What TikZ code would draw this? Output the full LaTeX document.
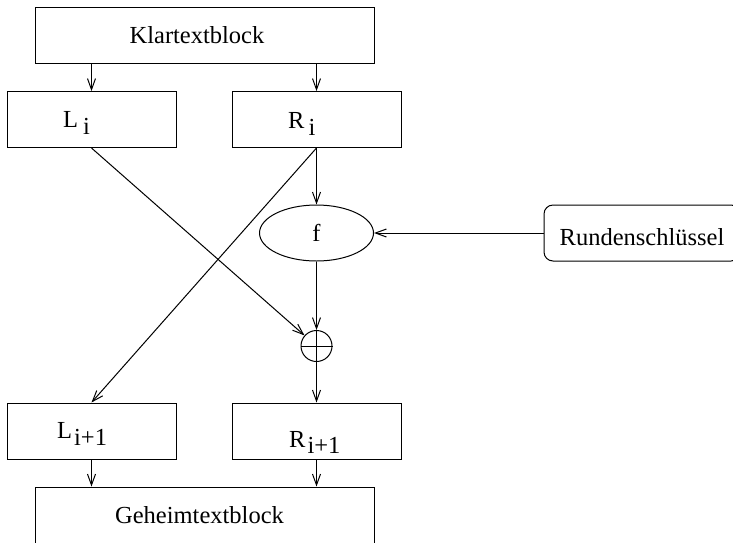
\documentclass[tikz,border=0pt]{standalone}
\usepackage{fontspec}
\setmainfont{Liberation Serif}
\usetikzlibrary{arrows.meta,shapes.geometric}
\begin{document}
\begin{tikzpicture}[x=1pt,y=-1pt,
  every node/.style={font=\fontsize{24.5}{29}\selectfont},
  box/.style={draw, line width=1pt, rectangle, inner sep=0pt,
              minimum width=169pt, minimum height=56pt},
  widebox/.style={box, minimum width=339pt},
  lbl/.style={anchor=base west, inner sep=0pt},
  ctr/.style={anchor=base, inner sep=0pt},
  arr/.style={line width=1pt, -{Straight Barb[length=11pt,width=8pt]}},
]
\useasboundingbox (0,0) rectangle (733,542);
\clip (0,0) rectangle (733,542);

% plaintext block
\node[widebox] (klar) at (204.5,35) {};
\node[ctr] (klarT) at (197,43) {Klartextblock};

% left and right halves of round i
\node[box] (li) at (91.5,119.5) {};
\node[lbl] (liT) at (63,127) {L\hspace{5pt}\raisebox{-7pt}{i}};
\node[box] (ri) at (316.5,119.5) {};
\node[lbl] (riT) at (288,128) {R\hspace{4pt}\raisebox{-7pt}{i}};

% round function and round key
\node[ellipse, draw, line width=1pt, minimum width=114pt, minimum height=56pt,
      inner sep=0pt] (f) at (316.5,233) {f};
\node[draw, line width=1pt, rounded corners=9pt, minimum width=196pt,
      minimum height=56pt, inner sep=0pt] (rs) at (642,233) {};
\node[ctr] (rsT) at (642,245) {Rundenschlüssel};

% XOR
\node[circle, draw, line width=1pt, minimum size=31pt, inner sep=0pt] (xor) at (316.5,346) {};
\draw[line width=0.9pt] (xor.north) -- (xor.south) (xor.west) -- (xor.east);

% halves of round i+1
\node[box] (li1) at (91.5,431) {};
\node[lbl] (li1T) at (57,438) {L\hspace{2pt}\raisebox{-7pt}{i+1}};
\node[box] (ri1) at (316.5,431) {};
\node[lbl] (ri1T) at (289,447) {R\hspace{2pt}\raisebox{-6pt}{i+1}};

% ciphertext block (runs past the lower edge)
\node[widebox, minimum height=70pt] (geh) at (204.5,522) {};
\node[ctr] (gehT) at (199.5,523) {Geheimtextblock};

% connectors
\draw[arr] (klar.south -| li.north) -- (li.north);
\draw[arr] (klar.south -| ri.north) -- (ri.north);
\draw[arr] (li.south) -- (xor);
\draw[arr] (ri.south) -- (li1.north);
\draw[arr] (ri.south) -- (f.north);
\draw[arr] (rs.west) -- (f.east);
\draw[arr] (f.south) -- (xor.north);
\draw[arr] (xor.south) -- (ri1.north);
\draw[arr] (li1.south) -- (geh.north -| li1.south);
\draw[arr] (ri1.south) -- (geh.north -| ri1.south);
\end{tikzpicture}
\end{document}
